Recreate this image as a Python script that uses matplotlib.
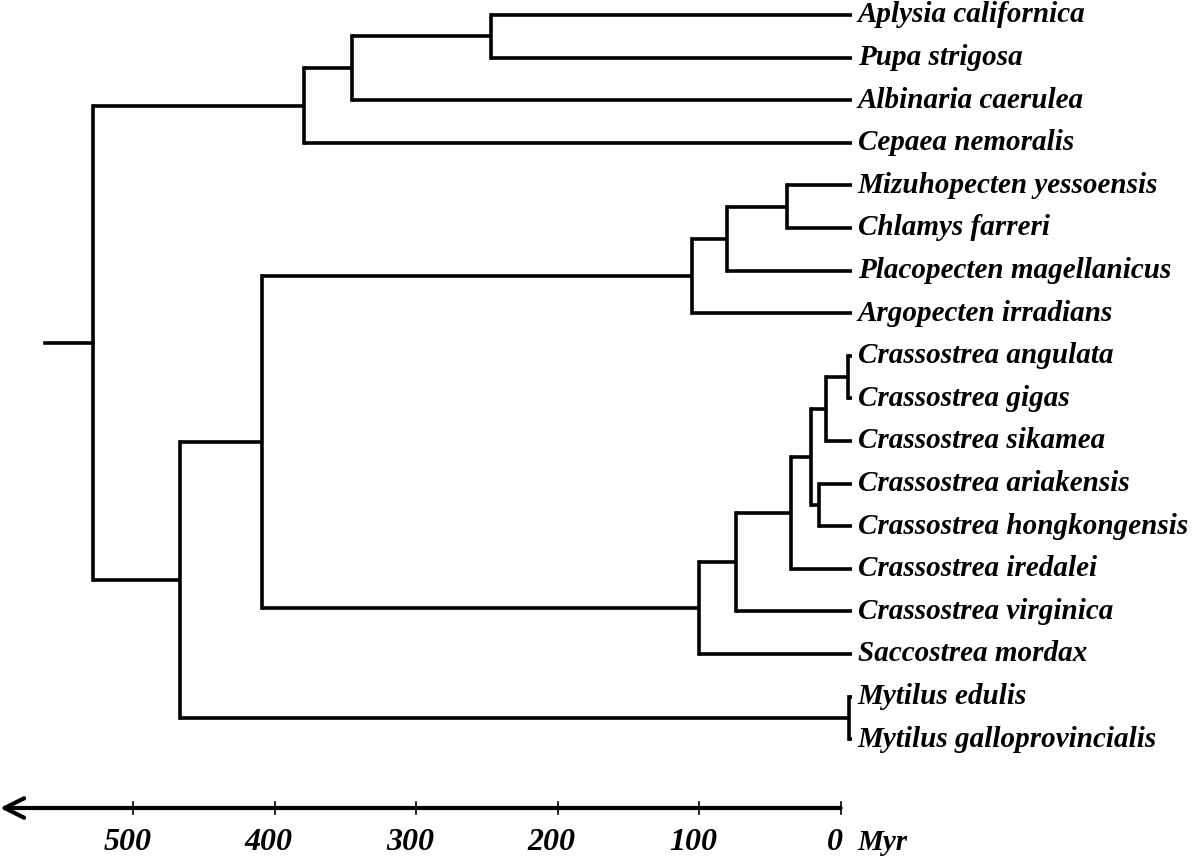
import matplotlib
matplotlib.use("Agg")
import matplotlib.pyplot as plt
from matplotlib.transforms import blended_transform_factory

plt.rcParams['font.family'] = 'Liberation Serif'

taxa = [
    "Aplysia californica", "Pupa strigosa", "Albinaria caerulea", "Cepaea nemoralis",
    "Mizuhopecten yessoensis", "Chlamys farreri", "Placopecten magellanicus",
    "Argopecten irradians", "Crassostrea angulata", "Crassostrea gigas",
    "Crassostrea sikamea", "Crassostrea ariakensis", "Crassostrea hongkongensis",
    "Crassostrea iredalei", "Crassostrea virginica", "Saccostrea mordax",
    "Mytilus edulis", "Mytilus galloprovincialis",
]

# internal nodes: (name, child a, child b, age in Myr)
nodes = [
    ("apl_pup", "Aplysia californica", "Pupa strigosa", 247),
    ("n_alb", "apl_pup", "Albinaria caerulea", 345),
    ("gastro", "n_alb", "Cepaea nemoralis", 379),
    ("miz_chl", "Mizuhopecten yessoensis", "Chlamys farreri", 38),
    ("n_plac", "miz_chl", "Placopecten magellanicus", 80),
    ("pectin", "n_plac", "Argopecten irradians", 105),
    ("ang_gig", "Crassostrea angulata", "Crassostrea gigas", -5),
    ("n_sik", "ang_gig", "Crassostrea sikamea", 10),
    ("ari_hk", "Crassostrea ariakensis", "Crassostrea hongkongensis", 15),
    ("n_asia", "n_sik", "ari_hk", 21),
    ("n_ired", "n_asia", "Crassostrea iredalei", 35),
    ("crass", "n_ired", "Crassostrea virginica", 74),
    ("oyster", "crass", "Saccostrea mordax", 100),
    ("pterio", "pectin", "oyster", 409),
    ("mytil", "Mytilus edulis", "Mytilus galloprovincialis", -6),
    ("bival", "pterio", "mytil", 467),
    ("root", "gastro", "bival", 528),
]
tip_age = -8
root_stem_age = 562
axis_ticks = [500, 400, 300, 200, 100, 0]

fig = plt.figure(figsize=(12, 8.64), dpi=100)
ax = fig.add_axes([0, 0, 1, 1])
ax.set_xlim(594, -254)
ax.set_ylim(19.93, -0.352)
ax.axis('off')

age = {t: tip_age for t in taxa}
ypos = {t: i for i, t in enumerate(taxa)}
for name, a, b, t in nodes:
    age[name] = t
    ypos[name] = (ypos[a] + ypos[b]) / 2

lw = 2.6
for name, a, b, t in nodes:
    ax.plot([t, t], [ypos[a], ypos[b]], color='black', lw=lw, solid_capstyle='projecting')
    for c in (a, b):
        ax.plot([t, age[c]], [ypos[c], ypos[c]], color='black', lw=lw, solid_capstyle='butt')
ax.plot([root_stem_age, age["root"]], [ypos["root"]] * 2, color='black', lw=lw)

for t in taxa:
    ax.text(tip_age - 4, ypos[t], t, fontsize=21, fontweight='bold', fontstyle='italic',
            va='center', ha='left')

# time scale
tr = blended_transform_factory(ax.transData, ax.transAxes)
y_axis = 1 - 808 / 864
ax.annotate("", xy=(594, y_axis), xytext=(0, y_axis), xycoords=tr, textcoords=tr,
            arrowprops=dict(arrowstyle='->', lw=3, color='black', mutation_scale=35,
                            shrinkA=0, shrinkB=0))
for tk in axis_ticks:
    ax.plot([tk, tk], [y_axis - 0.007, y_axis + 0.007], color='black', lw=1.2, transform=tr)
    ax.text(tk + 4, 1 - 843 / 864, str(tk), fontsize=23, fontweight='bold', fontstyle='italic',
            ha='center', va='center', transform=tr)
ax.text(tip_age - 4, 1 - 843 / 864, "Myr", fontsize=21, fontweight='bold', fontstyle='italic',
        ha='left', va='center', transform=tr)

fig.savefig("out.png", dpi=100)
